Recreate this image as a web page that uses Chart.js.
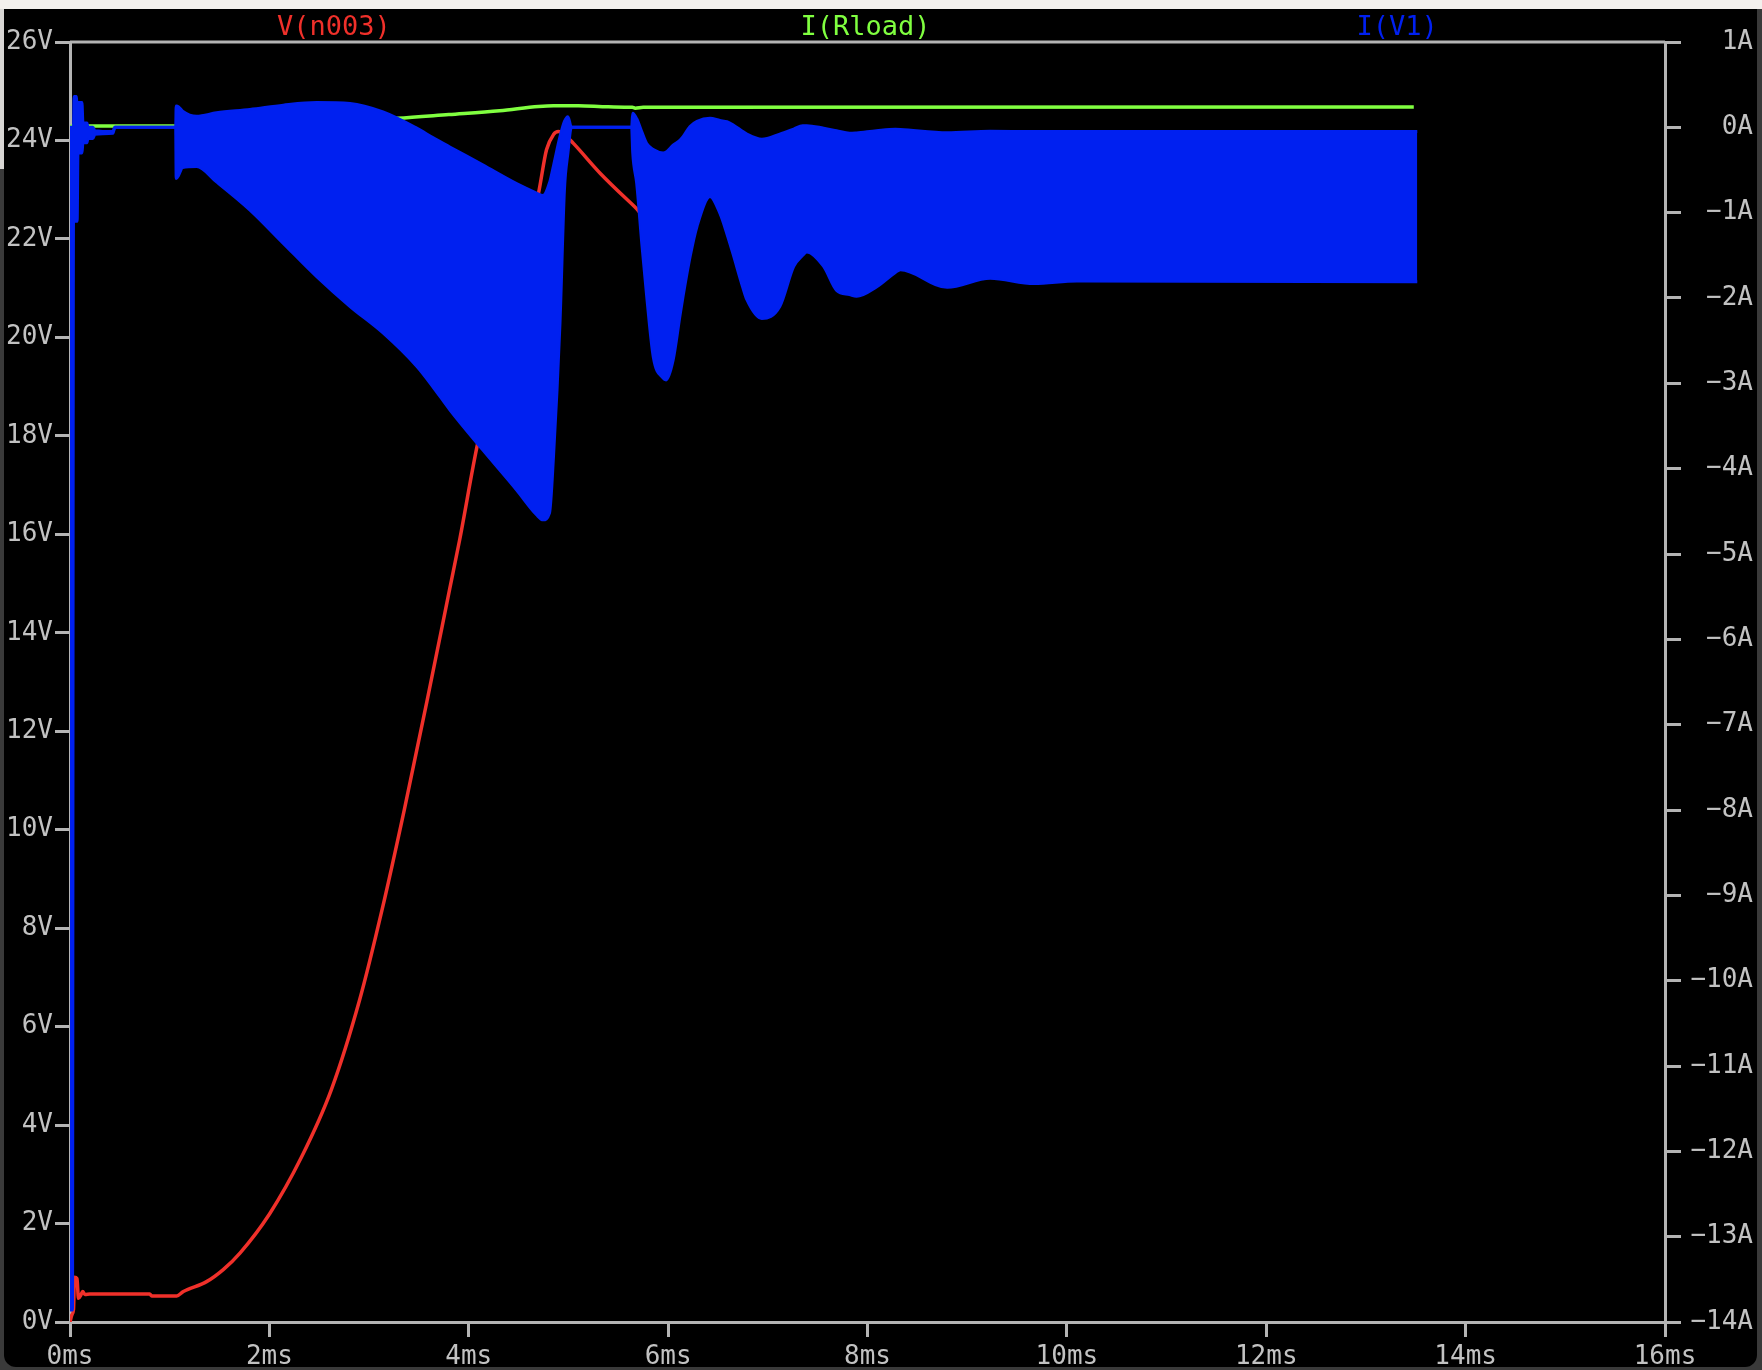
<!DOCTYPE html>
<html>
<head>
<meta charset="utf-8">
<script src="https://cdn.jsdelivr.net/npm/chart.js@4.4.1/dist/chart.umd.min.js"></script>
<style>
  html, body { margin: 0; padding: 0; background: #3a3a3a; overflow: hidden; }
  canvas { display: block; }
</style>
</head>
<body>
<canvas id="plot" width="1762" height="1370"></canvas>
<script>
// trace names, same order as on the plot header
var seriesNames = ['V(n003)', 'I(Rload)', 'I(V1)'];

// tick labels
var timeTicks = ['0ms', '2ms', '4ms', '6ms', '8ms', '10ms', '12ms', '14ms', '16ms'];
var voltTicks = ['0V', '2V', '4V', '6V', '8V', '10V', '12V', '14V', '16V', '18V', '20V', '22V', '24V', '26V'];
var ampTicks = ['\u221214A', '\u221213A', '\u221212A', '\u221211A', '\u221210A', '\u22129A', '\u22128A', '\u22127A',
  '\u22126A', '\u22125A', '\u22124A', '\u22123A', '\u22122A', '\u22121A', '0A', '1A'];

// V(n003) in volts (left axis), time in ms
var redTime = [0, 0.02, 0.035, 0.045, 0.07, 0.085, 0.11, 0.127, 0.15, 0.2, 0.8, 0.82, 1.07, 1.137, 1.37, 1.54, 1.705,
  2.003, 2.32, 2.62, 2.905, 3.13, 3.355, 3.58, 3.81, 3.91, 4.09, 4.4, 4.7, 4.78, 4.85, 4.9, 4.97, 5.05, 5.32, 5.667,
  5.8, 6.0, 6.3, 13.5];
var redVolts = [0, 0.15, 0.25, 0.91, 0.88, 0.48, 0.55, 0.62, 0.56, 0.57, 0.57, 0.53, 0.53, 0.62, 0.82, 1.07, 1.4,
  2.2, 3.34, 4.71, 6.54, 8.37, 10.42, 12.6, 14.9, 15.9, 17.85, 20.4, 22.93, 23.81, 24.12, 24.18, 24.1, 23.94, 23.33, 22.65,
  22.4, 22.6, 23.4, 23.5];

// I(Rload) in amps (right axis)
var greenTime = [0, 0.02, 1.07, 2.0, 3.28, 3.8, 4.31, 4.7, 4.85, 5.1, 5.4, 5.64, 5.67, 5.75, 13.48];
var greenAmps = [0, 0.015, 0.015, 0.05, 0.106, 0.15, 0.195, 0.245, 0.254, 0.254, 0.24, 0.235, 0.225, 0.235, 0.238];

// I(V1) switches too fast to resolve, so it shows as a band: upper and lower envelope
var blueTime = [0, 0.005, 0.025, 0.035, 0.04, 0.065, 0.072, 0.08, 0.12, 0.13, 0.17, 0.18, 0.23, 0.25, 0.43, 0.45,
  1.06, 1.065, 1.09, 1.13, 1.27, 1.47, 1.806, 2.14, 2.475, 2.81, 3.14, 3.478, 3.64, 3.81, 4.14, 4.48, 4.68, 4.745,
  4.81, 4.85, 4.915, 4.96, 4.995, 5.03, 5.634, 5.645, 5.685, 5.735, 5.785, 5.851, 5.95, 5.98, 6.05, 6.12, 6.15,
  6.22, 6.29, 6.42, 6.52, 6.59, 6.65, 6.75, 6.79, 6.94, 7.12, 7.26, 7.35, 7.39, 7.56, 7.69, 7.82, 7.89, 8.09,
  8.28, 8.33, 8.8, 9.23, 9.67, 10.1, 13.515];
var blueMax = [0, 0, 0, 0, 0.36, 0.36, 0.02, 0.29, 0.29, 0.05, 0.05, 0, 0, -0.04, -0.05, 0,
  0, 0.25, 0.24, 0.19, 0.13, 0.17, 0.21, 0.26, 0.29, 0.28, 0.18, -0.01, -0.12, -0.23, -0.44, -0.66, -0.77, -0.8,
  -0.65, -0.45, -0.11, 0.07, 0.125, 0, 0, 0.165, 0.1, -0.05, -0.19, -0.26, -0.3, -0.29, -0.21, -0.15, -0.11,
  0.01, 0.07, 0.106, 0.08, 0.066, 0.03, -0.05, -0.08, -0.14, -0.08, -0.02, 0.02, 0.02, -0.01, -0.04, -0.07, -0.065, -0.04,
  -0.023, -0.025, -0.063, -0.047, -0.05, -0.05, -0.05];
var blueMin = [0, -13.86, -13.86, -1.1, -1.1, -1.1, -1.1, -0.3, -0.3, -0.18, -0.18, -0.13, -0.13, -0.08, -0.07, 0,
  0, -0.6, -0.56, -0.47, -0.46, -0.64, -0.97, -1.36, -1.75, -2.1, -2.41, -2.8, -3.04, -3.31, -3.78, -4.25, -4.54, -4.6,
  -4.52, -3.86, -2.3, -0.73, -0.3, 0, 0, -0.3, -0.66, -1.35, -1.98, -2.69, -2.94, -2.96, -2.73, -2.2, -1.98,
  -1.52, -1.16, -0.81, -1.01, -1.25, -1.48, -1.88, -2.02, -2.24, -2.1, -1.63, -1.5, -1.46, -1.63, -1.91, -1.96, -1.98, -1.87,
  -1.7, -1.67, -1.875, -1.77, -1.83, -1.8, -1.81];

var red = '#f0302a';
var green = '#80ff40';
var blue = '#0020f0';
var axisGrey = '#b4b4b4';
var labelGrey = '#c2c2c2';
var monoFont = { family: 'DejaVu Sans Mono', size: 26 };

function pairs(xs, ys) {
  var out = [];
  for (var i = 0; i < xs.length; i++) out.push({ x: xs[i], y: ys[i] });
  return out;
}

// window chrome behind the plot
var chrome = {
  id: 'chrome',
  beforeDraw: function (chart) {
    var ctx = chart.ctx;
    ctx.save();
    ctx.fillStyle = '#3a3a3a';
    ctx.fillRect(0, 0, chart.width, chart.height);
    ctx.fillStyle = '#000';
    ctx.beginPath();
    ctx.roundRect(4, 0, 1753, 1367, [0, 0, 12, 12]);
    ctx.fill();
    ctx.fillStyle = '#f3f0ed';
    ctx.fillRect(0, 0, chart.width, 9);
    ctx.fillStyle = '#d8d6d4';
    ctx.fillRect(0, 9, 4, 160);
    ctx.restore();
  },
  afterDraw: function (chart) {
    var ctx = chart.ctx;
    var a = chart.chartArea;
    ctx.save();
    // top frame line
    ctx.strokeStyle = axisGrey;
    ctx.lineWidth = 3;
    ctx.beginPath();
    ctx.moveTo(a.left, a.top);
    ctx.lineTo(a.right, a.top);
    ctx.stroke();
    // trace names along the top
    var cols = [red, green, blue];
    var w = a.right - a.left;
    ctx.font = '27px "DejaVu Sans Mono"';
    ctx.textAlign = 'center';
    ctx.textBaseline = 'middle';
    for (var i = 0; i < seriesNames.length; i++) {
      ctx.fillStyle = cols[i];
      ctx.fillText(seriesNames[i], a.left + w * (2 * i + 1) / 6 - 2, 28);
    }
    ctx.restore();
  }
};

new Chart(document.getElementById('plot'), {
  type: 'line',
  data: {
    datasets: [
      {
        label: seriesNames[2] + ' max',
        data: pairs(blueTime, blueMax),
        yAxisID: 'amps',
        borderColor: blue,
        backgroundColor: blue,
        borderWidth: 3,
        fill: '+1'
      },
      {
        label: seriesNames[2] + ' min',
        data: pairs(blueTime, blueMin),
        yAxisID: 'amps',
        borderColor: blue,
        borderWidth: 3,
        fill: false
      },
      {
        label: seriesNames[1],
        data: pairs(greenTime, greenAmps),
        yAxisID: 'amps',
        borderColor: green,
        borderWidth: 3.5,
        fill: false
      },
      {
        label: seriesNames[0],
        data: pairs(redTime, redVolts),
        yAxisID: 'volts',
        borderColor: red,
        borderWidth: 3.5,
        fill: false
      }
    ]
  },
  options: {
    responsive: false,
    animation: false,
    devicePixelRatio: 1,
    layout: { padding: { top: 42, right: 9, left: 0, bottom: 0 } },
    elements: { point: { radius: 0 }, line: { cubicInterpolationMode: 'monotone' } },
    plugins: { legend: { display: false }, tooltip: { enabled: false } },
    scales: {
      x: {
        type: 'linear',
        min: 0,
        max: 16,
        afterFit: function (s) { s.height = 48; },
        ticks: {
          stepSize: 2,
          padding: 5,
          maxRotation: 0,
          color: labelGrey,
          font: monoFont,
          callback: function (v, i) { return timeTicks[i]; }
        },
        grid: { drawOnChartArea: false, tickLength: 15, color: axisGrey, lineWidth: 3 },
        border: { color: axisGrey, width: 3 }
      },
      volts: {
        type: 'linear',
        position: 'left',
        min: 0,
        max: 26,
        afterFit: function (s) { s.width = 70; },
        ticks: {
          stepSize: 2,
          padding: 2,
          color: labelGrey,
          font: monoFont,
          callback: function (v, i) { return voltTicks[i]; }
        },
        grid: { drawOnChartArea: false, tickLength: 15, color: axisGrey, lineWidth: 3 },
        border: { color: axisGrey, width: 3 }
      },
      amps: {
        type: 'linear',
        position: 'right',
        min: -14,
        max: 1,
        afterFit: function (s) { s.width = 88; },
        ticks: {
          stepSize: 1,
          padding: 2,
          crossAlign: 'far',
          color: labelGrey,
          font: monoFont,
          callback: function (v, i) { return ampTicks[i]; }
        },
        grid: { drawOnChartArea: false, tickLength: 16, color: axisGrey, lineWidth: 3 },
        border: { color: axisGrey, width: 3 }
      }
    }
  },
  plugins: [chrome]
});
</script>
</body>
</html>
